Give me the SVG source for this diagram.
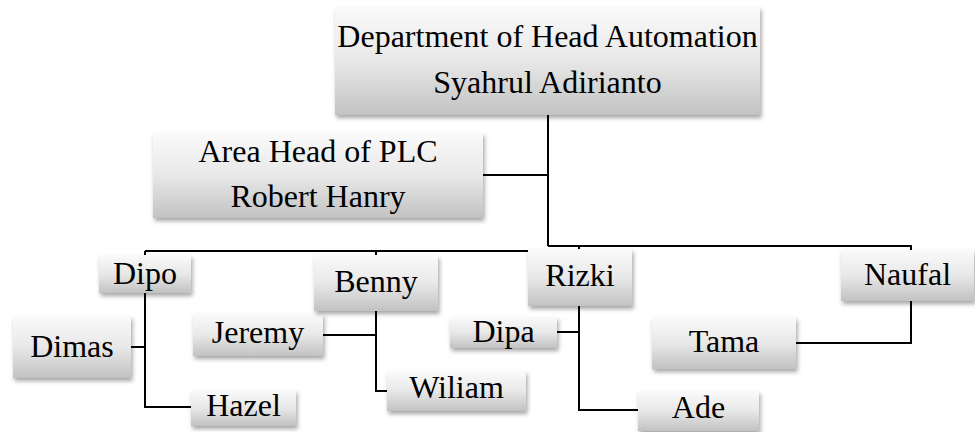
<svg xmlns="http://www.w3.org/2000/svg" width="975" height="432" viewBox="0 0 975 432">
<defs>
<linearGradient id="g" x1="0" y1="0" x2="0" y2="1">
<stop offset="0" stop-color="#fafafa"/>
<stop offset="0.5" stop-color="#e8e8e8"/>
<stop offset="1" stop-color="#c2c2c2"/>
</linearGradient>
<filter id="sh" x="-10%" y="-10%" width="125%" height="140%">
<feDropShadow dx="1.5" dy="3" stdDeviation="2" flood-color="#000" flood-opacity="0.35"/>
</filter>
</defs>
<style>
.box{fill:url(#g);filter:url(#sh)}
.t{font-family:"Liberation Serif","Times New Roman",serif;font-size:32px;fill:#000;text-anchor:middle}
.c{fill:none;stroke:#000;stroke-width:2}
</style>
<rect width="975" height="432" fill="#fff"/>
<g id="connectors" class="c">
<path d="M548 115V246"/>
<path d="M483 175H548"/>
<path d="M145 251H540"/>
<path d="M548 246H911V252"/>
<path d="M579 246V250"/>
<path d="M145 251V407H191"/>
<path d="M131 347H145"/>
<path d="M376 251V391H387"/>
<path d="M323 335H376"/>
<path d="M579 306V410H638"/>
<path d="M557 332H579"/>
<path d="M911 301V343H796"/>
</g>
<g id="head"><rect class="box" x="335" y="7" width="425" height="108"/><text class="t" x="547.5" y="47">Department of Head Automation</text><text class="t" x="547.5" y="93">Syahrul Adirianto</text></g>
<g id="area"><rect class="box" x="153" y="133" width="330" height="85"/><text class="t" x="318" y="162">Area Head of PLC</text><text class="t" x="318" y="207">Robert Hanry</text></g>
<g id="dipo"><rect class="box" x="99" y="255" width="92" height="38"/><text class="t" x="145" y="284">Dipo</text></g>
<g id="dimas"><rect class="box" x="13" y="316" width="118" height="62"/><text class="t" x="72" y="357">Dimas</text></g>
<g id="hazel"><rect class="box" x="191" y="390" width="105" height="36"/><text class="t" x="243.5" y="416">Hazel</text></g>
<g id="jeremy"><rect class="box" x="193" y="314" width="130" height="42"/><text class="t" x="258" y="343">Jeremy</text></g>
<g id="benny"><rect class="box" x="314" y="255" width="124" height="56"/><text class="t" x="376" y="292">Benny</text></g>
<g id="wiliam"><rect class="box" x="387" y="371" width="139" height="40"/><text class="t" x="456.5" y="398">Wiliam</text></g>
<g id="rizki"><rect class="box" x="528" y="249" width="104" height="57"/><text class="t" x="580" y="286">Rizki</text></g>
<g id="dipa"><rect class="box" x="450" y="317" width="107" height="31"/><text class="t" x="503.5" y="342">Dipa</text></g>
<g id="ade"><rect class="box" x="638" y="391" width="121" height="40"/><text class="t" x="698.5" y="418">Ade</text></g>
<g id="naufal"><rect class="box" x="841" y="250" width="133" height="51"/><text class="t" x="907.5" y="285">Naufal</text></g>
<g id="tama"><rect class="box" x="652" y="317" width="144" height="52"/><text class="t" x="724" y="352">Tama</text></g>
</svg>
